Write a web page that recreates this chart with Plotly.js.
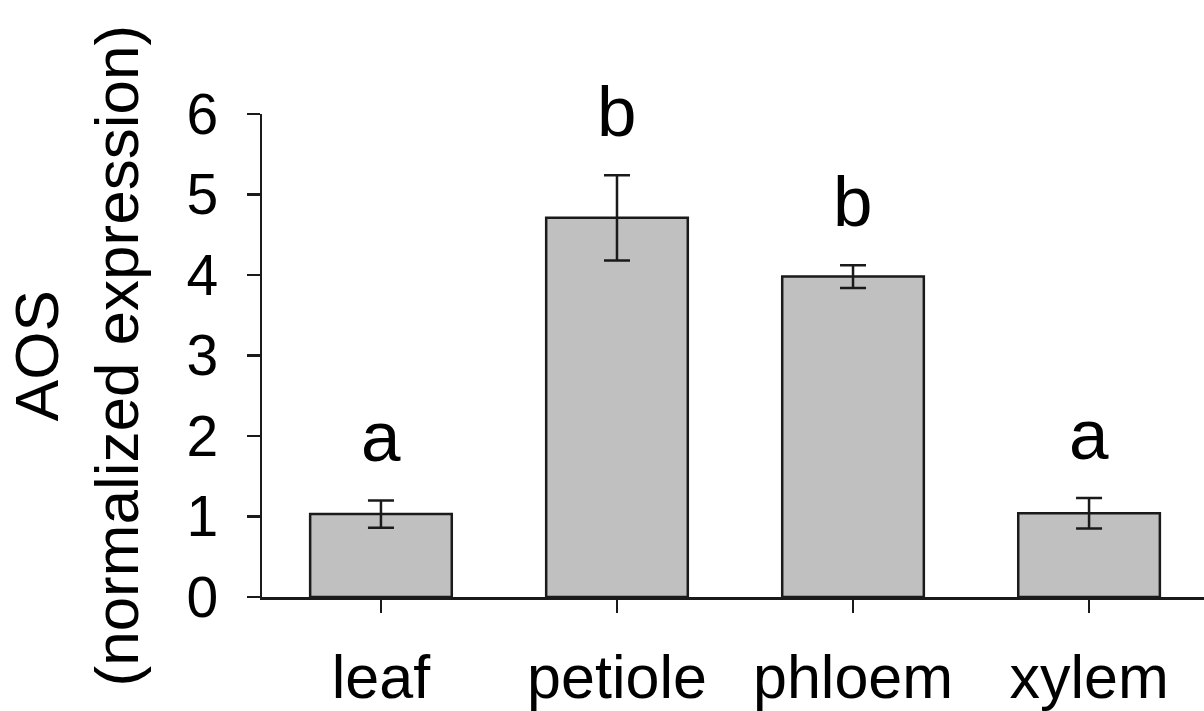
<!DOCTYPE html>
<html>
<head>
<meta charset="utf-8">
<script src="https://cdn.plot.ly/plotly-3.0.1.min.js"></script>
<style>html,body{margin:0;padding:0;background:#fff;}#chart{width:1204px;height:711px;}</style>
</head>
<body>
<div id="chart"></div>
<script>
var categories = ["leaf", "petiole", "phloem", "xylem"];
var values = [1.03, 4.71, 3.98, 1.04];
var errors = [0.17, 0.53, 0.14, 0.19];
var letters = ["a", "b", "b", "a"];
var yTicks = [0, 1, 2, 3, 4, 5, 6];
var yTitle = "AOS<br>(normalized expression)";

var FONT = "Liberation Sans, Arial, Helvetica, sans-serif";
var INK = "#1a1a1a";

var trace = {
  type: "bar",
  x: categories,
  y: values,
  width: 0.6,
  marker: { color: "#c0c0c0", line: { color: INK, width: 2.5 } },
  error_y: { type: "data", array: errors, visible: true, color: INK, thickness: 2.5, width: 13 },
  hoverinfo: "x+y"
};

var annotations = categories.map(function (c, i) {
  return {
    x: c, y: values[i] + errors[i], xref: "x", yref: "y",
    text: letters[i], showarrow: false, yanchor: "bottom", yshift: 22,
    font: { family: FONT, size: 71, color: "#000" }
  };
});

annotations.push({
  xref: "paper", yref: "paper", x: 0, y: 0.5,
  xanchor: "left", yanchor: "middle", xshift: -263,
  text: yTitle, textangle: -90, showarrow: false,
  font: { family: FONT, size: 62, color: "#000" }
});

var layout = {
  width: 1204, height: 711,
  margin: { l: 262, r: 0, t: 114, b: 114, pad: 0 },
  paper_bgcolor: "#fff", plot_bgcolor: "#fff",
  showlegend: false,
  font: { family: FONT, color: "#000" },
  xaxis: {
    type: "category",
    range: [-0.504, 3.487],
    showline: true, linecolor: INK, linewidth: 2.5,
    ticks: "outside", ticklen: 13, tickwidth: 2.5, tickcolor: INK,
    tickson: "labels",
    ticklabelstandoff: 12,
    tickfont: { family: FONT, size: 61, color: "#000" },
    showgrid: false, zeroline: false, fixedrange: true
  },
  yaxis: {
    range: [0, 6],
    tickvals: yTicks,
    ticktext: yTicks.map(String),
    showline: true, linecolor: INK, linewidth: 2.5,
    ticks: "outside", ticklen: 13, tickwidth: 2.5, tickcolor: INK,
    ticklabelstandoff: 17,
    tickfont: { family: FONT, size: 57, color: "#000" },
    showgrid: false, zeroline: false, fixedrange: true
  },
  annotations: annotations,
  bargap: 0.4
};

Plotly.newPlot("chart", [trace], layout, { displayModeBar: false, staticPlot: true });
</script>
</body>
</html>
